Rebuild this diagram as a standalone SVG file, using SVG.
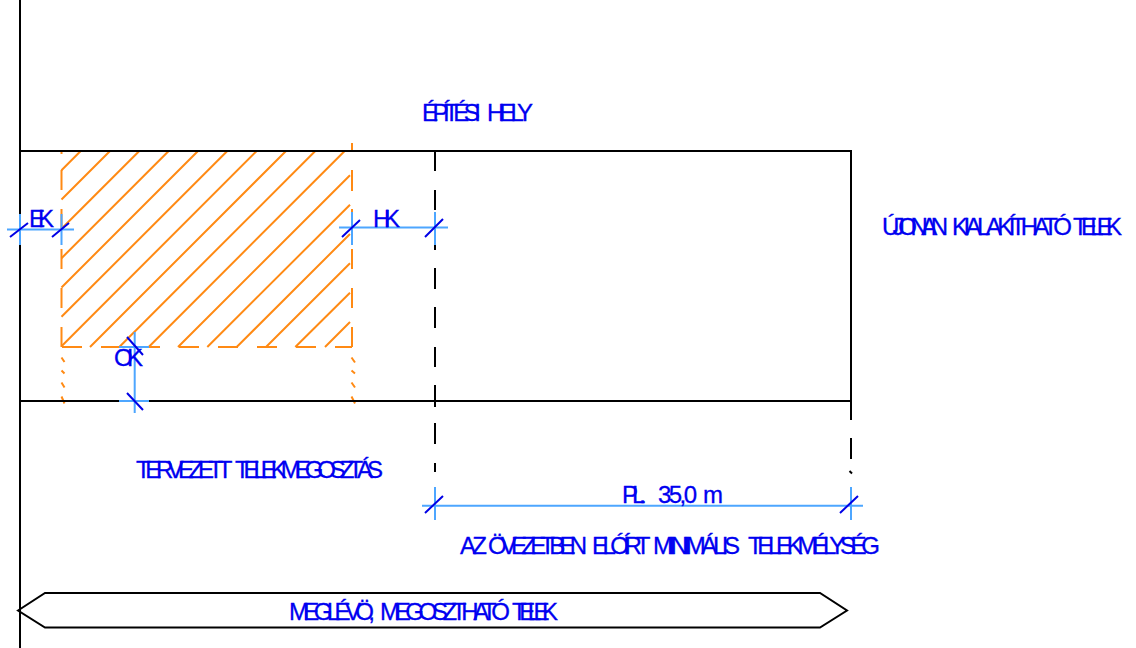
<svg xmlns="http://www.w3.org/2000/svg" width="1136" height="648" viewBox="0 0 1136 648">
<style>
.k{stroke:#000;stroke-width:2;fill:none}
.o{stroke:#ff8a14;stroke-width:2;fill:none}
.d{stroke:#4da6ff;stroke-width:2;fill:none}
.t{stroke:#0000e6;stroke-width:2;fill:none}
text{font-family:"Liberation Sans",Arial,sans-serif;font-size:24px;fill:#0000f0;stroke:#0000f0;stroke-width:.3}
</style>
<rect width="1136" height="648" fill="#fff"/>
<g id="hatch">
<path class="o" d="M80.7 151L61.5 170.2M110 151L61.5 199.5M139.3 151L61.5 228.8M168.7 151L61.5 258.2M198 151L61.5 287.5M227.3 151L61.5 316.8M256.7 151L61.5 346.2M286 151L90 347M315.3 151L119.3 347M344.7 151L148.7 347M350 175.3L178 347M350 204.700L207.3 347M350 234L236.7 347M350 263.3L266 347M350 292.7L295.3 347M350 322L325 347"/>
<path class="o" d="M61.5 151V154M61.5 170V190M61.5 209V230M61.5 249V269M61.5 288V308M61.5 327V347M352 143V152M352 170V191M352 209V230M352 249V269M352 288V308M352 327V347M62 347H82M101 347H121M140 347H160M179 347H199M218 347H238M257 347H277M296 347H316M335 347H352"/>
<path class="o" d="M61.500 357.500L64.500 362M61.500 370.500L64.500 373.500M61.500 382.500L64.500 387.500M61.500 396.500L64.500 403.500M351.500 357.500L355 362.500M351.500 370.500L355 373.500M351.500 382.500L355 387.500M351.500 396.500L355 403.500"/>
</g>
<g id="connectors">
<path class="k" d="M20 0V648M20 151H851V420M20 401H851M851 438V459M849.500 471L852 473.500M435 151V171M435 190V210M435 229V250M435 268V289M435 307V328M435 347V367M435 385V407M435 423V444M435 463V472"/>
<path class="k" d="M18 610.500L45 593H820L847 610.500L820 627.500H45Z"/>
</g>
<g id="dimensions">
<path class="d" d="M7 229.500H74M20 214V245M61.500 214V245M339 227.500H448M352 212V245M435 212V245M134.700 332V413M119 347H149M119 401H149M422 505.700H863M435 487V520M851 487V520"/>
<path class="t" d="M10 237L28 223M52 237L69 223M342 237L360 220M425 237L443 219M127 337L143 355M127 393L143 410M425 513L443 496M840 513L858 496"/>
</g>
<g id="label-epitesi"><text y="121"><tspan x="422" textLength="59" lengthAdjust="spacing">ÉPÍTÉSI</tspan> <tspan x="487" textLength="46" lengthAdjust="spacing">HELY</tspan></text></g>
<g id="label-ujonan"><text y="235"><tspan x="882" textLength="66" lengthAdjust="spacing">ÚJONAN</tspan> <tspan x="952" textLength="120" lengthAdjust="spacing">KIALAKÍTHATÓ</tspan> <tspan x="1073" textLength="49" lengthAdjust="spacing">TELEK</tspan></text></g>
<g id="label-ek"><text x="29" y="227" textLength="25" lengthAdjust="spacing">EK</text></g>
<g id="label-hk"><text x="373" y="227" textLength="27" lengthAdjust="spacing">HK</text></g>
<g id="label-ok"><text x="114" y="365.500" textLength="29" lengthAdjust="spacing">OK</text></g>
<g id="label-tervezett"><text y="478"><tspan x="136" textLength="96" lengthAdjust="spacing">TERVEZETT</tspan> <tspan x="235" textLength="148" lengthAdjust="spacing">TELEKMEGOSZTÁS</tspan></text></g>
<g id="label-pl"><text y="503"><tspan x="622" textLength="24" lengthAdjust="spacing">PL.</tspan> <tspan x="658" textLength="39" lengthAdjust="spacing">35,0</tspan> <tspan x="703" textLength="17" lengthAdjust="spacing">m</tspan></text></g>
<g id="label-ovezet"><text y="554"><tspan x="460" textLength="27" lengthAdjust="spacing">AZ</tspan> <tspan x="488" textLength="99" lengthAdjust="spacing">ÖVEZETBEN</tspan> <tspan x="592" textLength="58" lengthAdjust="spacing">ELÓÍRT</tspan> <tspan x="653" textLength="87" lengthAdjust="spacing">MINIMÁLIS</tspan> <tspan x="748" textLength="132" lengthAdjust="spacing">TELEKMÉLYSÉG</tspan></text></g>
<g id="label-meglevo"><text y="620"><tspan x="289" textLength="86" lengthAdjust="spacing">MEGLÉVÖ,</tspan> <tspan x="380" textLength="130" lengthAdjust="spacing">MEGOSZTHATÓ</tspan> <tspan x="512" textLength="46" lengthAdjust="spacing">TELEK</tspan></text></g>
</svg>
